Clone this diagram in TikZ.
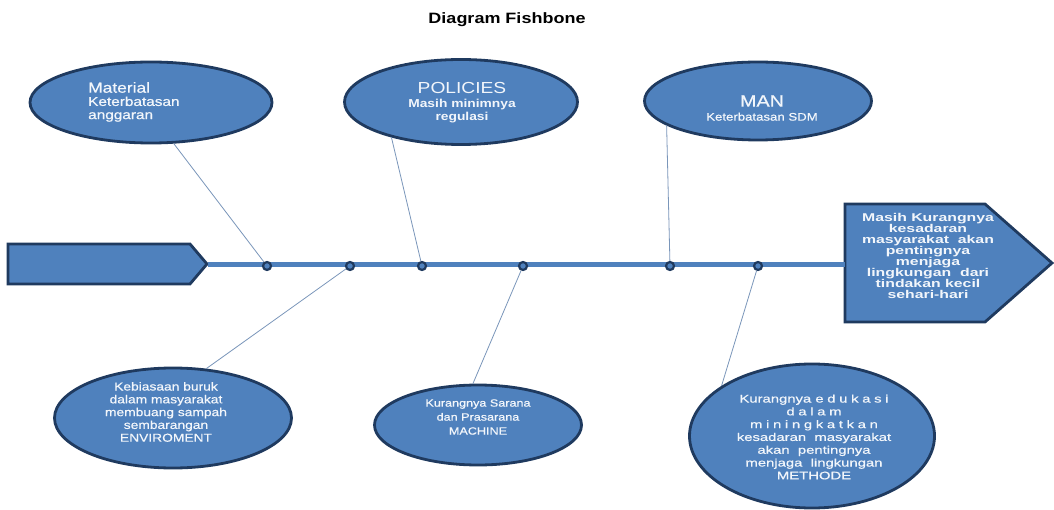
\documentclass[tikz,border=0pt]{standalone}
\usepackage{fontspec}
\setmainfont{Liberation Sans}[FakeStretch=1.2]
\newfontfamily\semi{Liberation Sans}[FakeStretch=1.2, FakeBold=0.6]
\newfontfamily\wider{Liberation Sans}[FakeStretch=1.35, FakeBold=0.6]
\newfontfamily\widerb{Liberation Sans Bold}[FakeStretch=1.4]
\usetikzlibrary{shapes.geometric}
\definecolor{fillblue}{HTML}{4F81BD}
\definecolor{navy}{HTML}{1F3A5F}
\definecolor{conn}{HTML}{7A96BA}
\definecolor{txt}{HTML}{F2F6FB}
\begin{document}
\begin{tikzpicture}[x=1pt,y=-1pt,
  ell/.style={ellipse, draw=navy, line width=2.8pt, fill=fillblue, inner sep=0pt},
  lbl/.style={text=txt, align=center, inner sep=0pt},
  bone/.style={draw=conn, line width=0.8pt},
  dot/.style={circle, draw=navy, line width=2.2pt, fill=fillblue, minimum size=8pt, inner sep=0pt},
  arrowshape/.style={draw=navy, line width=2.8pt, fill=fillblue, line join=miter}]
\useasboundingbox[fill=white] (0,0) rectangle (1054,510);

% title
\node[font=\bfseries\fontsize{15}{17}\selectfont, inner sep=0pt] (title) at (507,20) {Diagram Fishbone};

% tail and head
\draw[arrowshape] (8,244) -- (190,244) -- (207,264) -- (190,284) -- (8,284) -- cycle;
\coordinate (tailtip) at (208,265);
\draw[arrowshape] (845,204) -- (985,204) -- (1052,263) -- (985,322) -- (845,322) -- cycle;
\coordinate (headleft) at (845,265);
\node[lbl, font=\widerb\fontsize{11.3}{10.9}\selectfont] (effect) at (928,256)
  {Masih Kurangnya\\kesadaran\\masyarakat\ \ akan\\pentingnya\\menjaga\\lingkungan\ \ dari\\tindakan kecil\\sehari-hari};

% spine
\draw[draw=fillblue, line width=5pt] (tailtip) -- (headleft);

% dots
\node[dot] (d1) at (267,266) {};
\node[dot] (d2) at (350,266) {};
\node[dot] (d3) at (422,266) {};
\node[dot] (d4) at (523,266) {};
\node[dot] (d5) at (670,266) {};
\node[dot] (d6) at (758,266) {};

% top ellipses
\node[ell, minimum width=242pt, minimum height=81pt] (mat) at (151,102.5) {};
\node[ell, minimum width=233pt, minimum height=85pt] (pol) at (461,102) {};
\node[ell, minimum width=227pt, minimum height=78pt] (man) at (758,101) {};
% bottom ellipses
\node[ell, minimum width=237pt, minimum height=100pt] (env) at (173,418) {};
\node[ell, minimum width=207pt, minimum height=80pt] (mac) at (478,425) {};
\node[ell, minimum width=245pt, minimum height=144pt] (met) at (812,436) {};

% labels
\node[lbl, align=left, anchor=north west, font=\semi\fontsize{12.8}{13.2}\selectfont] (matt) at (88,82)
  {{\fontsize{14.5}{13.2}\selectfont Material}\\Keterbatasan\\anggaran};
\node[lbl, font=\bfseries\fontsize{11.5}{13.5}\selectfont] (polt) at (462,103)
  {{\mdseries\fontsize{16}{13.5}\selectfont POLICIES}\\Masih minimnya\\regulasi};
\node[lbl, font=\semi\fontsize{11}{14}\selectfont] (mant) at (762,108)
  {{\fontsize{16.5}{14}\selectfont MAN}\\Keterbatasan SDM};
\node[lbl, font=\semi\fontsize{11.5}{12.8}\selectfont] (envt) at (166,412)
  {Kebiasaan buruk\\dalam masyarakat\\membuang sampah\\sembarangan\\ENVIROMENT};
\node[lbl, font=\semi\fontsize{10.5}{14}\selectfont] (mact) at (478,417)
  {Kurangnya Sarana\\dan Prasarana\\MACHINE};
\node[lbl, font=\wider\fontsize{11}{12.8}\selectfont] (mett) at (814,437)
  {Kurangnya e\,\,d\,\,u\,\,k\,\,a\,\,s\,\,i\\d\,\,a\,\,l\,\,a\,\,m\\m\,\,i\,\,n\,\,i\,\,n\,\,g\,\,k\,\,a\,\,t\,\,k\,\,a\,\,n\\kesadaran\ \ masyarakat\\akan\ \ pentingnya\\menjaga\ \ lingkungan\\METHODE};

% bones
\draw[bone] (mat.-61) -- (d1);
\draw[bone] (pol.207) -- (d3);
\draw[bone] (man.195) -- (d5);
\draw[bone] (env.56) -- (d2);
\draw[bone] (mac.97) -- (d4);
\draw[bone] (met.151) -- (d6);
\end{tikzpicture}
\end{document}
